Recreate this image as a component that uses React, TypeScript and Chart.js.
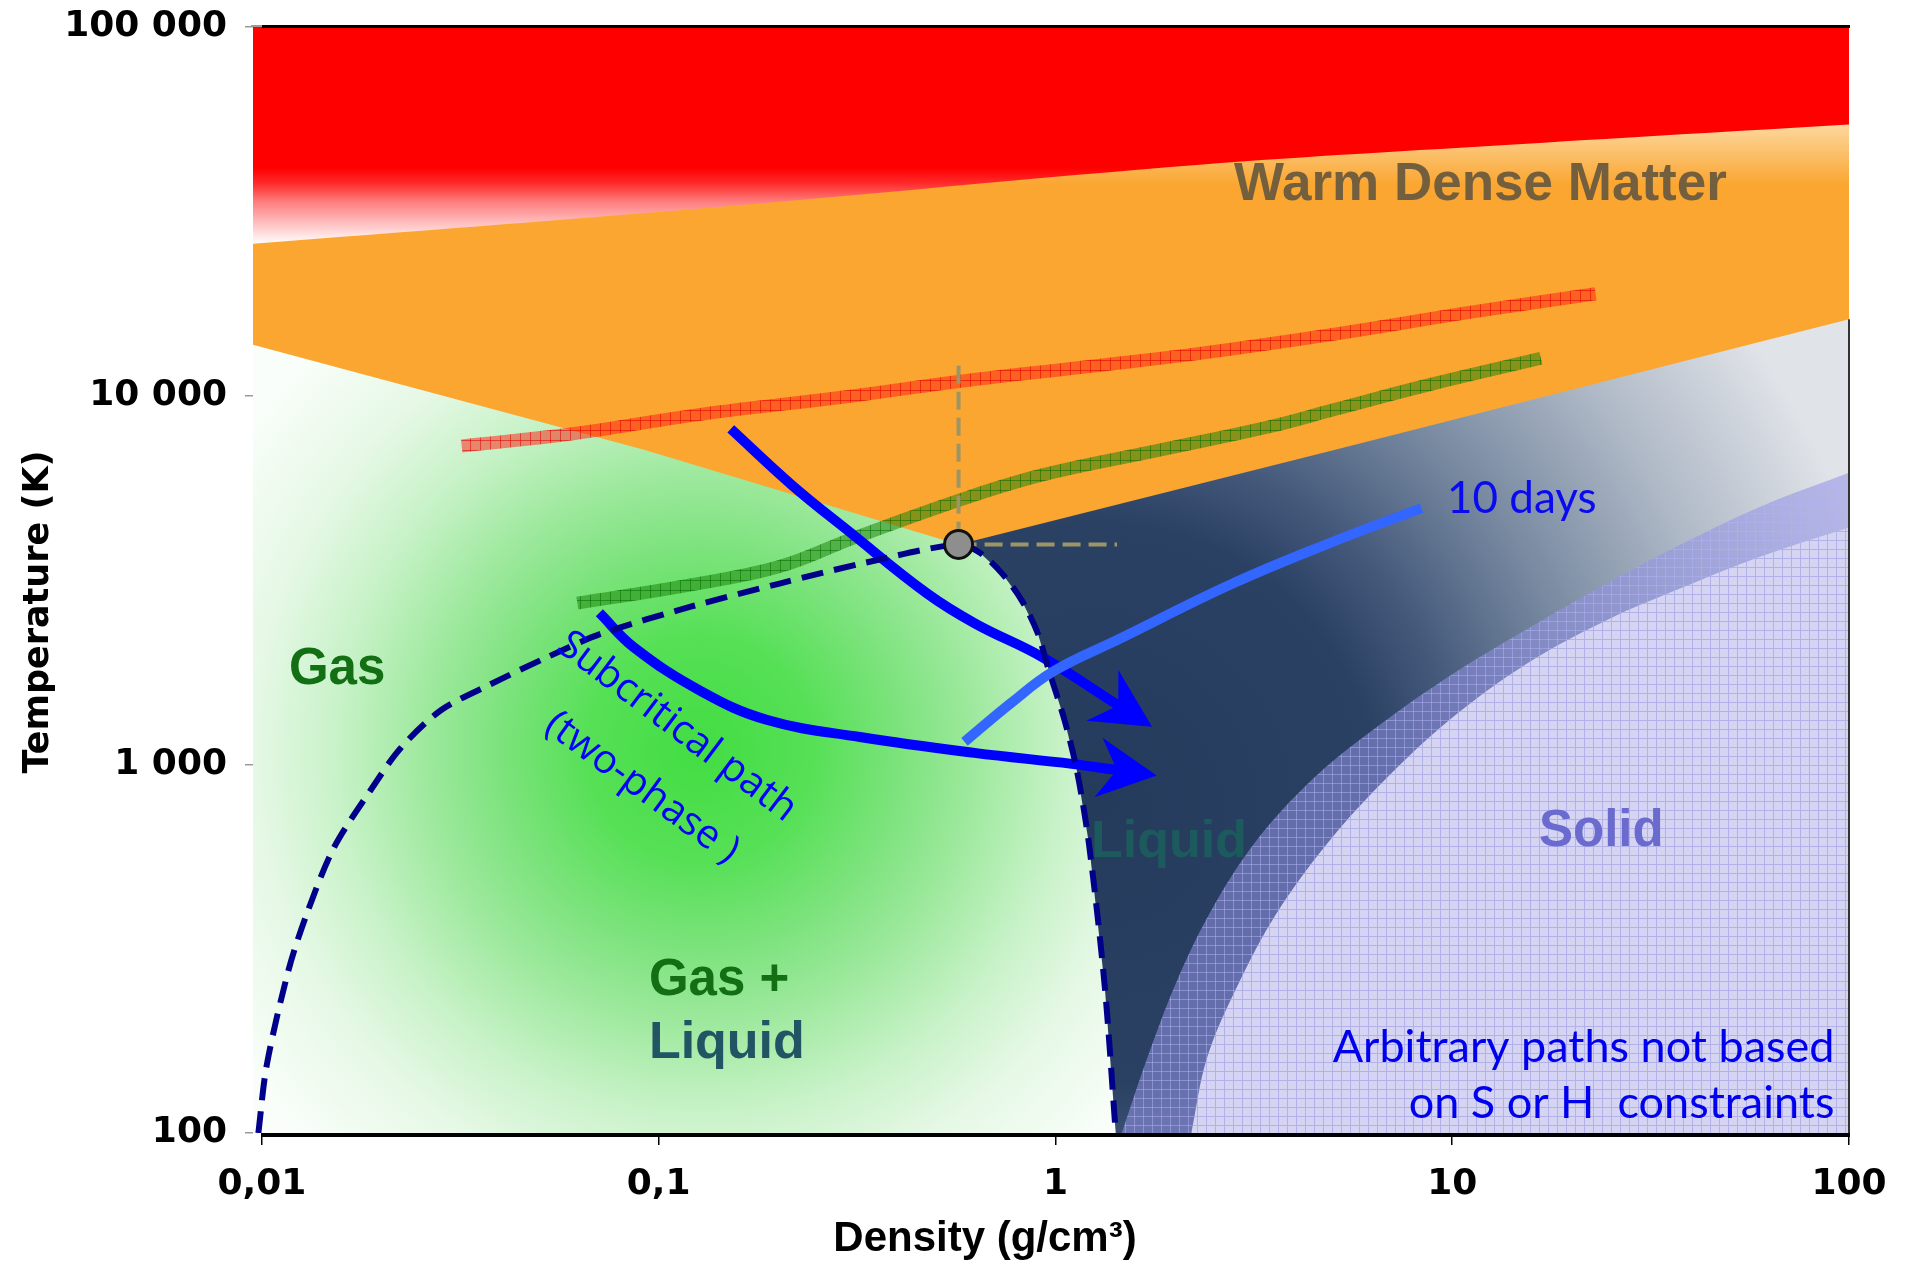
import { useEffect, useRef } from "react";
import { Chart, registerables } from "chart.js";

Chart.register(...registerables);

// ---- axes ----------------------------------------------------------------
const DENSITY_MIN = 0.0095;
const DENSITY_MAX = 100;
const TEMP_MIN = 100;
const TEMP_MAX = 100000;

const densityTicks = [0.01, 0.1, 1, 10, 100];
const densityTickLabels = ["0,01", "0,1", "1", "10", "100"];
const temperatureTicks = [100, 1000, 10000, 100000];
const temperatureTickLabels = ["100", "1 000", "10 000", "100 000"];

// ---- phase boundaries (density g/cm3, temperature K) ----------------------
// lower edge of the hot plasma band
const plasmaEdgeDensity = [0.0095, 0.1274, 2.31, 15.05, 100];
const plasmaEdgeTemp = [25820, 32190, 42330, 48180, 54400];

// lower edge of the warm dense matter domain, through the critical point
const wdmEdgeDensity = [0.0095, 0.0914, 0.57, 5.1, 100];
const wdmEdgeTemp = [13740, 7140, 3950, 7140, 16110];

// liquid–gas coexistence curve: left branch, critical point, right branch
const binodalDensity = [
  0.0098, 0.01029, 0.01168, 0.01299, 0.01518, 0.01876, 0.02239, 0.02827, 0.0375,
  0.0527, 0.0719, 0.1204, 0.2017, 0.3403, 0.57, 0.647, 0.735, 0.823, 0.903, 0.962,
  1.054, 1.132, 1.214, 1.331, 1.419,
];
const binodalTemp = [
  100, 153, 277, 394, 593, 848, 1107, 1402, 1644, 1959, 2264, 2676, 3093, 3545, 3950,
  3740, 3286, 2780, 2264, 1802, 1319, 965, 612, 251, 100,
];
const CRITICAL_INDEX = 14;

const criticalDensity = [0.57];
const criticalTemp = [3950];

// melting region: outer (mixed) edge and inner (solid) edge
const meltOuterDensity = [1.47, 1.705, 2.006, 2.445, 3.176, 4.43, 6.44, 10.05, 15.7, 24.5, 38.2, 59.7, 100];
const meltOuterTemp = [100, 160, 253, 394, 612, 908, 1260, 1761, 2351, 3093, 3976, 5000, 6179];
const solidEdgeDensity = [2.2, 2.411, 2.877, 3.607, 4.855, 6.77, 9.84, 15.37, 24.5, 38.2, 59.7, 100];
const solidEdgeTemp = [100, 160, 251, 394, 612, 908, 1319, 1872, 2461, 3021, 3656, 4387];

// two hatched bands crossing the diagram
const upperBandDensity = [0.0319, 0.0607, 0.1274, 0.308, 0.57, 1.267, 2.31, 5.1, 11.26, 22.98];
const upperBandTemp = [7305, 7880, 8900, 9980, 10930, 12060, 13020, 14710, 16870, 18900];
const lowerBandDensity = [0.0624, 0.1204, 0.2017, 0.308, 0.566, 0.922, 1.79, 3.48, 5.1, 8.67, 16.73];
const lowerBandTemp = [2738, 3069, 3440, 4098, 5186, 6086, 7085, 8250, 9200, 10680, 12630];

// thermodynamic paths
const supercriticalPathDensity = [0.152, 0.2165, 0.3039, 0.4745, 0.6295, 0.922, 1.44];
const supercriticalPathTemp = [8124, 5725, 4256, 2909, 2405, 1959, 1445];
const subcriticalPathDensity = [0.0709, 0.0864, 0.1274, 0.188, 0.3217, 0.625, 1.1, 1.43];
const subcriticalPathTemp = [2576, 2082, 1583, 1319, 1186, 1074, 1003, 965];
const tenDaysDensity = [0.59, 0.773, 0.989, 1.439, 2.797, 4.89, 8.37];
const tenDaysTemp = [1151, 1467, 1788, 2180, 3093, 3976, 4956];

// dashed guides from the critical point
const guideUpDensity = [0.57, 0.57];
const guideUpTemp = [12060, 3950];
const guideRightDensity = [0.57, 1.43];
const guideRightTemp = [3950, 3950];

// ---- text ------------------------------------------------------------------
type Label = {
  text: string; x: number; y: number; font: string; color: string;
  align: CanvasTextAlign; baseline?: CanvasTextBaseline; angle?: number;
};
const regionLabels: Label[] = [
  { text: "Warm Dense Matter", x: 2.818, y: 33950, font: 'bold 53px "Liberation Sans"', color: "#735F3E", align: "left" },
  { text: "Gas", x: 0.0117, y: 1652, font: 'bold 51px "Liberation Sans"', color: "#136F13", align: "left" },
  { text: "Gas +", x: 0.0945, y: 237, font: 'bold 51px "Liberation Sans"', color: "#136F13", align: "left" },
  { text: "Liquid", x: 0.0945, y: 160, font: 'bold 52px "Liberation Sans"', color: "#225564", align: "left" },
  { text: "Liquid", x: 1.229, y: 561, font: 'bold 52px "Liberation Sans"', color: "#1D5A5E", align: "left" },
  { text: "Solid", x: 16.55, y: 601, font: 'bold 51px "Liberation Sans"', color: "#6B6BCF", align: "left" },
  { text: "10 days", x: 9.7, y: 4808, font: '44px "Lato"', color: "#0A0AF0", align: "left" },
  { text: "Arbitrary paths not based", x: 91.9, y: 155.4, font: '45px "Lato"', color: "#0000EE", align: "right" },
  { text: "on S or H  constraints", x: 91.9, y: 109.9, font: '45px "Lato"', color: "#0000EE", align: "right" },
  { text: "Subcritical path", x: 0.1112, y: 1263, font: '40px "Open Sans"', color: "#0000FF", align: "center", baseline: "middle", angle: 37 },
  { text: "(two-phase )", x: 0.0908, y: 863, font: '40px "Open Sans"', color: "#0000FF", align: "center", baseline: "middle", angle: 36 },
];
const Y_TITLE = "Temperature (K)";
const X_TITLE = "Density (g/cm³)";

const zip = (xs: number[], ys: number[]) => xs.map((x, i) => ({ x, y: ys[i] }));

const NONE = "rgba(0,0,0,0)";

function makeChart(canvas: HTMLCanvasElement) {
  const ctx = canvas.getContext("2d")!;

  const hatch = (base: string, line: string, cell: number) => {
    const off = document.createElement("canvas");
    off.width = cell;
    off.height = cell;
    const g = off.getContext("2d")!;
    g.fillStyle = base;
    g.fillRect(0, 0, cell, cell);
    g.fillStyle = line;
    g.fillRect(0, 0, cell, 1);
    g.fillRect(0, 0, 1, cell);
    return ctx.createPattern(off, "repeat")!;
  };
  const upperBandFill = hatch("rgba(255,28,18,0.5)", "rgba(225,0,0,0.55)", 10);
  const lowerBandFill = hatch("rgba(20,125,0,0.5)", "rgba(0,105,0,0.5)", 10);
  const meltFill = hatch("rgba(146,146,228,0.56)", "rgba(178,178,245,0.5)", 9);
  const solidFill = hatch("#D5D5F3", "#B2B2E9", 9);

  const px = (chart: any, v: number) => chart.scales.x.getPixelForValue(v);
  const py = (chart: any, v: number) => chart.scales.y.getPixelForValue(v);

  const plasmaGradient = (c: any) => {
    const chart = c.chart;
    if (!chart.chartArea) return "#ff0000";
    const g = chart.ctx.createLinearGradient(0, py(chart, 41460), 0, py(chart, 25790));
    g.addColorStop(0, "#ff0000");
    g.addColorStop(0.2, "#ff2a2a");
    g.addColorStop(0.45, "#ff7f7f");
    g.addColorStop(0.72, "#ffbdbd");
    g.addColorStop(1, "#ffffff");
    return g;
  };
  const wdmGradient = (c: any) => {
    const chart = c.chart;
    if (!chart.chartArea) return "#FAA630";
    const g = chart.ctx.createLinearGradient(0, py(chart, 55950), 0, py(chart, 37270));
    g.addColorStop(0, "#FDDCA6");
    g.addColorStop(0.45, "#FBC372");
    g.addColorStop(1, "#FAA630");
    return g;
  };
  const fluidGradient = (c: any) => {
    const chart = c.chart;
    if (!chart.chartArea) return "#243B5C";
    const cx = px(chart, 1.265);
    const cy = py(chart, 781);
    const g = chart.ctx.createRadialGradient(cx, cy, 0, cx, cy, 804);
    g.addColorStop(0, "#243B5C");
    g.addColorStop(0.35, "#2A4164");
    g.addColorStop(0.45, "#44587A");
    g.addColorStop(0.6, "#74869E");
    g.addColorStop(0.8, "#AEB8C6");
    g.addColorStop(1, "#E0E3E8");
    return g;
  };
  const gasGradient = (c: any) => {
    const chart = c.chart;
    if (!chart.chartArea) return "#9BE89B";
    const cx = px(chart, 0.127);
    const cy = py(chart, 1101);
    const g = chart.ctx.createRadialGradient(cx, cy, 0, cx, cy, 560);
    g.addColorStop(0, "#42DD42");
    g.addColorStop(0.2, "#56E056");
    g.addColorStop(0.36, "#7DE37D");
    g.addColorStop(0.48, "#9BE89B");
    g.addColorStop(0.65, "#C8F2C8");
    g.addColorStop(0.8, "#E6F8E6");
    g.addColorStop(1, "#FAFEFA");
    return g;
  };

  const region = (points: { x: number; y: number }[], fill: any, order: number) => ({
    data: points, backgroundColor: fill, borderColor: NONE, borderWidth: 0,
    fill: "shape", tension: 0, pointRadius: 0, order,
  });
  // area between a smooth boundary and the top ("end") or bottom ("start") of the plot
  const slab = (points: { x: number; y: number }[], fill: any, to: "start" | "end", order: number) => ({
    data: points, backgroundColor: fill, borderColor: NONE, borderWidth: 0,
    fill: to, tension: 0.35, pointRadius: 0, order,
  });
  const curve = (points: { x: number; y: number }[], color: any, width: number, order: number, extra: any = {}) => ({
    data: points, borderColor: color, borderWidth: width, fill: false, tension: 0.4,
    pointRadius: 0, borderCapStyle: "butt", borderJoinStyle: "round", order, ...extra,
  });

  const binodal = zip(binodalDensity, binodalTemp);
  const rightBranch = binodal.slice(CRITICAL_INDEX);

  const datasets: any[] = [
    // dense fluid background
    region(
      [
        { x: criticalDensity[0] * 0.5, y: TEMP_MIN },
        { x: criticalDensity[0] * 0.5, y: TEMP_MAX },
        { x: DENSITY_MAX, y: TEMP_MAX },
        { x: DENSITY_MAX, y: TEMP_MIN },
      ],
      fluidGradient, 100,
    ),
    // gas and two-phase dome
    region(
      [
        { x: DENSITY_MIN, y: TEMP_MIN },
        { x: DENSITY_MIN, y: TEMP_MAX },
        { x: criticalDensity[0], y: TEMP_MAX },
        ...rightBranch,
      ],
      gasGradient, 90,
    ),
    // warm dense matter
    region(
      [
        { x: DENSITY_MIN, y: TEMP_MAX },
        { x: DENSITY_MAX, y: TEMP_MAX },
        ...zip(wdmEdgeDensity, wdmEdgeTemp).reverse(),
      ],
      wdmGradient, 80,
    ),
    // hot plasma
    slab(zip(plasmaEdgeDensity, plasmaEdgeTemp), plasmaGradient, "end", 70),
    // melting band and solid
    slab(zip(meltOuterDensity, meltOuterTemp), meltFill, "start", 60),
    slab(zip(solidEdgeDensity, solidEdgeTemp), solidFill, "start", 50),
    // hatched bands
    curve(zip(upperBandDensity, upperBandTemp), upperBandFill, 13, 40),
    curve(zip(lowerBandDensity, lowerBandTemp), lowerBandFill, 13, 39),
    // guides
    curve(zip(guideUpDensity, guideUpTemp), "#9D9566", 4, 35, { borderDash: [18, 8], tension: 0 }),
    curve(zip(guideRightDensity, guideRightTemp), "#9D9566", 4, 35, { borderDash: [18, 8], tension: 0 }),
    // paths
    curve(zip(supercriticalPathDensity, supercriticalPathTemp), "#0000FF", 10, 25, { arrowHead: true }),
    curve(zip(subcriticalPathDensity, subcriticalPathTemp), "#0000FF", 10, 24, { arrowHead: true }),
    // coexistence curve
    curve(binodal, "#00008B", 6, 22, { borderDash: [22, 11], tension: 0.3 }),
    curve(zip(tenDaysDensity, tenDaysTemp), "#3366FF", 10, 20),
    // critical point
    {
      data: zip(criticalDensity, criticalTemp), showLine: false, pointRadius: 14,
      pointBackgroundColor: "#8E8E8E", pointBorderColor: "#111111", pointBorderWidth: 3,
      borderColor: NONE, backgroundColor: "#8E8E8E", order: 1,
    },
  ];

  const overlay = {
    id: "overlay",
    afterDraw(chart: any) {
      const c: CanvasRenderingContext2D = chart.ctx;
      const xs = chart.scales.x;
      const ys = chart.scales.y;
      const a = chart.chartArea;

      // arrow heads at the end of the paths
      chart.data.datasets.forEach((ds: any, i: number) => {
        if (!ds.arrowHead) return;
        const pts = chart.getDatasetMeta(i).data;
        const p1 = pts[pts.length - 1];
        const p0 = pts[pts.length - 2];
        const ang = Math.atan2(p1.y - p0.y, p1.x - p0.x);
        const tipX = p1.x + 40 * Math.cos(ang);
        const tipY = p1.y + 40 * Math.sin(ang);
        const half = (27 * Math.PI) / 180;
        const len = 66;
        c.save();
        c.fillStyle = ds.borderColor;
        c.beginPath();
        c.moveTo(tipX, tipY);
        c.lineTo(tipX - len * Math.cos(ang - half), tipY - len * Math.sin(ang - half));
        c.lineTo(p1.x, p1.y);
        c.lineTo(tipX - len * Math.cos(ang + half), tipY - len * Math.sin(ang + half));
        c.closePath();
        c.fill();
        c.restore();
      });

      // region and annotation text
      regionLabels.forEach((l) => {
        c.save();
        c.font = l.font;
        c.fillStyle = l.color;
        c.textAlign = l.align;
        c.textBaseline = l.baseline ?? "alphabetic";
        c.translate(xs.getPixelForValue(l.x), ys.getPixelForValue(l.y));
        if (l.angle) c.rotate((l.angle * Math.PI) / 180);
        c.fillText(l.text, 0, 0);
        c.restore();
      });

      // frame: top rule, bottom axis, right edge
      const x0 = xs.getPixelForValue(densityTicks[0]);
      const x1 = xs.getPixelForValue(DENSITY_MAX);
      c.save();
      c.fillStyle = "#000";
      c.fillRect(x0, a.top - 2, x1 - x0 + 1, 3);
      c.fillRect(x0, a.bottom, x1 - x0 + 1, 4);
      c.fillStyle = "#9a9a9a";
      c.fillRect(a.left - 2, a.top - 2, x0 - a.left + 2, 2);
      c.fillStyle = "#333";
      const yr = ys.getPixelForValue(wdmEdgeTemp[wdmEdgeTemp.length - 1]);
      c.fillRect(x1 - 1, yr, 2, a.bottom - yr);
      c.restore();

      // axis titles
      c.save();
      c.fillStyle = "#000";
      c.font = 'bold 35px "DejaVu Sans"';
      c.textAlign = "center";
      c.textBaseline = "alphabetic";
      c.translate(48, 612);
      c.rotate(-Math.PI / 2);
      c.fillText(Y_TITLE, 0, 0);
      c.restore();

      c.save();
      c.fillStyle = "#000";
      c.font = 'bold 42px "Liberation Sans"';
      c.textAlign = "center";
      c.textBaseline = "alphabetic";
      c.fillText(X_TITLE, 985, 1251);
      c.restore();
    },
  };

  const tickFont = { family: "'DejaVu Sans'", weight: "bold" as const, size: 36 };

  return new Chart(canvas, {
    type: "line",
    data: { datasets },
    options: {
      responsive: false,
      maintainAspectRatio: false,
      animation: false,
      devicePixelRatio: 1,
      events: [],
      layout: { padding: { top: 27, right: 61, left: 0, bottom: 0 } },
      plugins: { legend: { display: false }, tooltip: { enabled: false } },
      scales: {
        x: {
          type: "logarithmic",
          min: DENSITY_MIN,
          max: DENSITY_MAX,
          border: { display: false },
          afterBuildTicks: (s: any) => {
            s.ticks = densityTicks.map((v) => ({ value: v }));
          },
          afterFit: (s: any) => {
            s.height = 129;
            s.paddingLeft = 0;
            s.paddingRight = 0;
          },
          grid: { drawOnChartArea: false, tickLength: 12, color: "#000", lineWidth: 1.5 },
          ticks: {
            autoSkip: false,
            maxRotation: 0,
            padding: 18,
            color: "#000",
            font: tickFont,
            callback: (v: any) => densityTickLabels[densityTicks.indexOf(Number(v))] ?? "",
          },
        },
        y: {
          type: "logarithmic",
          min: TEMP_MIN,
          max: TEMP_MAX,
          border: { display: false },
          afterBuildTicks: (s: any) => {
            s.ticks = temperatureTicks.map((v) => ({ value: v }));
          },
          afterFit: (s: any) => {
            s.width = 253;
            s.paddingTop = 0;
            s.paddingBottom = 0;
          },
          grid: { drawOnChartArea: false, tickLength: 8, color: "#9a9a9a", lineWidth: 1.5 },
          ticks: {
            autoSkip: false,
            padding: 18,
            color: "#000",
            font: tickFont,
            callback: (v: any) => temperatureTickLabels[temperatureTicks.indexOf(Number(v))] ?? "",
          },
        },
      },
    } as any,
    plugins: [overlay],
  });
}

export default function App() {
  const ref = useRef<HTMLCanvasElement>(null);
  useEffect(() => {
    const chart = makeChart(ref.current!);
    return () => chart.destroy();
  }, []);
  return (
    <div style={{ position: "fixed", left: 0, top: 0, width: 1910, height: 1262, background: "#fff" }}>
      <canvas ref={ref} width={1910} height={1262} style={{ display: "block", width: 1910, height: 1262 }} />
    </div>
  );
}
